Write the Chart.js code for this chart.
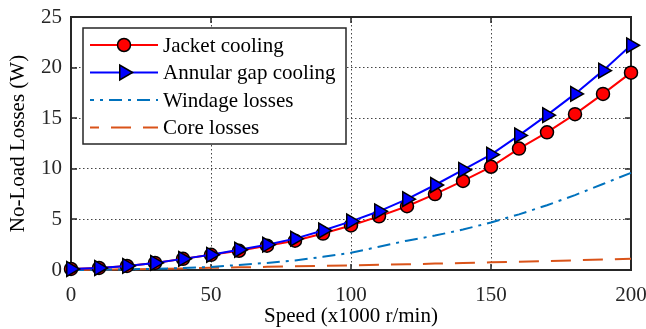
<!DOCTYPE html>
<html>
<head>
<meta charset="utf-8">
<script src="https://cdn.jsdelivr.net/npm/chart.js@4/dist/chart.umd.min.js"></script>
<style>
  html, body { margin: 0; padding: 0; background: #fff; }
  #wrap { width: 646px; height: 329px; position: relative; }
</style>
</head>
<body>
<div id="wrap"><canvas id="grafico"></canvas></div>
<script>
// Velocidade (x1000 r/min)
const speed = [0, 10, 20, 30, 40, 50, 60, 70, 80, 90, 100, 110, 120, 130, 140, 150, 160, 170, 180, 190, 200];

// Perdas em vazio (W)
const jacketCooling = [0.1, 0.2, 0.4, 0.7, 1.1, 1.5, 1.9, 2.4, 2.9, 3.6, 4.4, 5.3, 6.3, 7.5, 8.8, 10.2, 12.0, 13.6, 15.4, 17.4, 19.5];
const annularGapCooling = [0.1, 0.2, 0.4, 0.7, 1.1, 1.5, 2.0, 2.5, 3.1, 3.9, 4.8, 5.8, 7.0, 8.4, 9.9, 11.4, 13.3, 15.3, 17.4, 19.7, 22.2];
const windageLosses = [0, 0.02, 0.06, 0.12, 0.2, 0.3, 0.5, 0.7, 0.95, 1.3, 1.7, 2.3, 2.9, 3.4, 4.0, 4.7, 5.5, 6.4, 7.4, 8.5, 9.6];
const coreLosses = [0, 0.03, 0.07, 0.11, 0.16, 0.21, 0.26, 0.31, 0.36, 0.41, 0.46, 0.52, 0.57, 0.63, 0.69, 0.76, 0.82, 0.89, 0.96, 1.04, 1.12];

const xTicks = [0, 50, 100, 150, 200];
const yTicks = [0, 5, 10, 15, 20, 25];

const FONTE = 'Liberation Serif, Times New Roman, serif';
const TAM = 21;
const TRACO_PONTO = [13, 6, 3, 6];
const TRACEJADO = [20, 12];

function pares(ys) {
    return speed.map((x, i) => ({ x: x, y: ys[i] }));
}

// Moldura com marcas de escala para dentro (estilo MATLAB)
const molduraPlugin = {
    id: 'moldura',
    beforeDatasetsDraw(chart) {
        const { ctx, chartArea: a, scales } = chart;
        ctx.save();
        ctx.strokeStyle = '#262626';
        ctx.lineWidth = 2;
        ctx.strokeRect(a.left, a.top, a.right - a.left, a.bottom - a.top);
        ctx.lineWidth = 1.5;
        ctx.beginPath();
        xTicks.forEach(v => {
            const px = Math.round(scales.x.getPixelForValue(v));
            ctx.moveTo(px, a.bottom); ctx.lineTo(px, a.bottom - 6);
            ctx.moveTo(px, a.top); ctx.lineTo(px, a.top + 6);
        });
        yTicks.forEach(v => {
            const py = Math.round(scales.y.getPixelForValue(v));
            ctx.moveTo(a.left, py); ctx.lineTo(a.left + 6, py);
            ctx.moveTo(a.right, py); ctx.lineTo(a.right - 6, py);
        });
        ctx.stroke();
        ctx.restore();
    }
};

function desenharMarcador(ctx, estilo, x, y) {
    ctx.save();
    ctx.lineWidth = 1.5;
    ctx.strokeStyle = '#000';
    ctx.beginPath();
    if (estilo === 'circle') {
        ctx.fillStyle = '#ff0000';
        ctx.arc(x, y, 6.5, 0, Math.PI * 2);
    } else {
        ctx.fillStyle = '#0000ff';
        const r = 8.5;
        ctx.moveTo(x + r, y);
        ctx.lineTo(x - r / 2, y - r * Math.sqrt(3) / 2);
        ctx.lineTo(x - r / 2, y + r * Math.sqrt(3) / 2);
        ctx.closePath();
    }
    ctx.fill();
    ctx.stroke();
    ctx.restore();
}

// Legenda desenhada dentro da área do gráfico
const legendaPlugin = {
    id: 'legendaInterna',
    afterDatasetsDraw(chart) {
        const { ctx, chartArea: a } = chart;
        const x0 = a.left + 12, y0 = a.top + 11, w = 263, h = 116;
        ctx.save();
        ctx.fillStyle = '#fff';
        ctx.fillRect(x0, y0, w, h);
        ctx.strokeStyle = '#262626';
        ctx.lineWidth = 1.5;
        ctx.strokeRect(x0, y0, w, h);

        const itens = [
            { texto: 'Jacket cooling', cor: '#ff0000', dash: [], offset: 0, marcador: 'circle' },
            { texto: 'Annular gap cooling', cor: '#0000ff', dash: [], offset: 0, marcador: 'triangle' },
            { texto: 'Windage losses', cor: '#0072BD', dash: TRACO_PONTO, offset: 9, marcador: null },
            { texto: 'Core losses', cor: '#D95319', dash: TRACEJADO, offset: 11, marcador: null }
        ];
        ctx.font = TAM + 'px ' + FONTE;
        ctx.textBaseline = 'middle';
        itens.forEach((it, i) => {
            const y = y0 + 17 + i * 27.5;
            ctx.save();
            ctx.strokeStyle = it.cor;
            ctx.lineWidth = 2;
            ctx.setLineDash(it.dash);
            ctx.lineDashOffset = it.offset;
            ctx.beginPath();
            ctx.moveTo(x0 + 7, y);
            ctx.lineTo(x0 + 75, y);
            ctx.stroke();
            ctx.restore();
            if (it.marcador) desenharMarcador(ctx, it.marcador, x0 + 41, y);
            ctx.fillStyle = '#000';
            ctx.fillText(it.texto, x0 + 80, y + 1);
        });
        ctx.restore();
    }
};

const ctx = document.getElementById('grafico').getContext('2d');

new Chart(ctx, {
    type: 'line',
    data: {
        datasets: [
            {
                label: 'Jacket cooling',
                data: pares(jacketCooling),
                borderColor: '#ff0000',
                borderWidth: 2,
                pointStyle: 'circle',
                pointRadius: 6.5,
                pointBackgroundColor: '#ff0000',
                pointBorderColor: '#000',
                pointBorderWidth: 1.5,
                order: 1
            },
            {
                label: 'Annular gap cooling',
                data: pares(annularGapCooling),
                borderColor: '#0000ff',
                borderWidth: 2,
                pointStyle: 'triangle',
                pointRotation: 90,
                pointRadius: 8.5,
                pointBackgroundColor: '#0000ff',
                pointBorderColor: '#000',
                pointBorderWidth: 1.5,
                order: 0
            },
            {
                label: 'Windage losses',
                data: pares(windageLosses),
                borderColor: '#0072BD',
                borderWidth: 2,
                borderDash: TRACO_PONTO,
                pointRadius: 0,
                order: 2
            },
            {
                label: 'Core losses',
                data: pares(coreLosses),
                borderColor: '#D95319',
                borderWidth: 2,
                borderDash: TRACEJADO,
                pointRadius: 0,
                order: 3
            }
        ]
    },
    options: {
        responsive: true,
        maintainAspectRatio: false,
        animation: false,
        clip: false,
        layout: { padding: { top: 17, right: 15, left: 0, bottom: 0 } },
        plugins: {
            legend: { display: false },
            tooltip: { enabled: false }
        },
        elements: { line: { tension: 0, fill: false } },
        scales: {
            x: {
                type: 'linear',
                min: 0,
                max: 200,
                afterFit: s => { s.height = 59; s.paddingLeft = 0; s.paddingRight = 0; },
                afterBuildTicks: s => { s.ticks = xTicks.map(v => ({ value: v })); },
                ticks: { color: '#262626', font: { family: FONTE, size: TAM }, padding: 13, maxRotation: 0 },
                grid: { color: '#444', lineWidth: 1, drawTicks: false },
                border: { display: false, dash: [1.5, 2.5] },
                title: {
                    display: true,
                    text: 'Speed (x1000 r/min)',
                    color: '#000',
                    font: { family: FONTE, size: TAM },
                    padding: { top: 0, bottom: 0 }
                }
            },
            y: {
                min: 0,
                max: 25,
                afterFit: s => { s.width = 71; s.paddingTop = 0; s.paddingBottom = 0; },
                afterBuildTicks: s => { s.ticks = yTicks.map(v => ({ value: v })); },
                ticks: { color: '#262626', font: { family: FONTE, size: TAM }, padding: 9 },
                grid: { color: '#444', lineWidth: 1, drawTicks: false },
                border: { display: false, dash: [1.5, 2.5] },
                title: {
                    display: true,
                    text: 'No-Load Losses (W)',
                    color: '#000',
                    font: { family: FONTE, size: TAM },
                    padding: { top: 6, bottom: 0 }
                }
            }
        }
    },
    plugins: [molduraPlugin, legendaPlugin]
});
</script>
</body>
</html>
